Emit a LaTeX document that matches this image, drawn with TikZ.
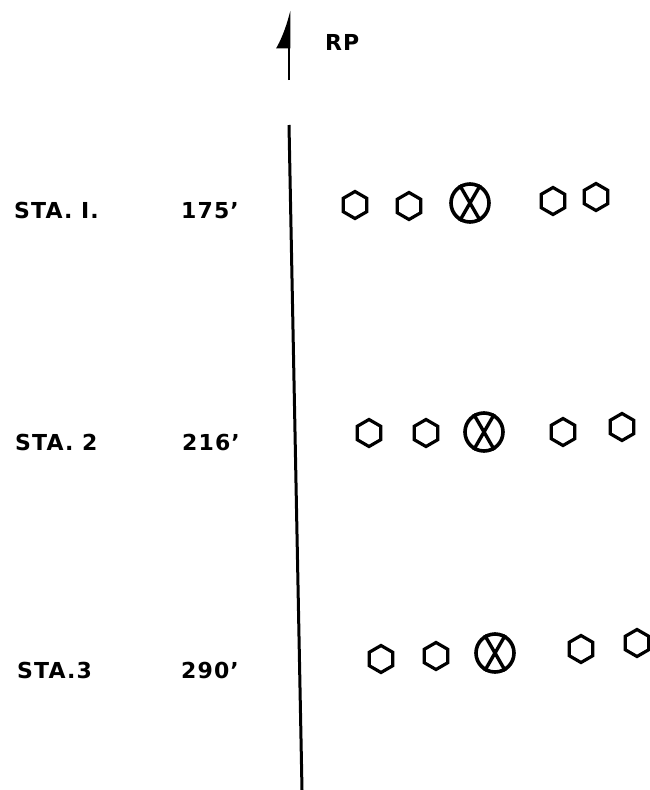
\documentclass[tikz,border=0pt]{standalone}
\usepackage{fontspec}
\setmainfont{DejaVu Sans}
\usetikzlibrary{arrows.meta, shapes.geometric}
\tikzset{
  bolt/.style={
    regular polygon, regular polygon sides=6, shape border rotate=30,
    draw, line width=3.2pt, minimum size=27pt, inner sep=0pt
  },
  target/.style={
    circle, draw, line width=3.6pt, minimum size=38pt, inner sep=0pt
  },
  label/.style={font=\fontsize{22}{24}\selectfont\bfseries\addfontfeature{LetterSpace=5},
    anchor=base west, inner sep=0pt},
}

\begin{document}
\begin{tikzpicture}[x=1pt, y=-1pt]
  \useasboundingbox (0,0) rectangle (650,790);
  % reference direction
  \coordinate (RPtail) at (289,80);
  \coordinate (RPtip) at (289,10);
  \draw[line width=2.8pt, -{Latex[harpoon, length=33pt, width=26pt]}] (RPtail) -- (RPtip);
  \node[label] (RP) at (325,50) {RP};
  % centre line
  \coordinate (Ltop) at (289,125);
  \coordinate (Lbot) at (302,790);
  \draw[line width=3pt] (Ltop) -- (Lbot);

  % station 1
  \node[label] (STA1) at (14,218) {STA. I.};
  \node[label] (D1) at (181,218) {175'};
  \node[bolt] (B11) at (355,205) {};
  \node[bolt] (B12) at (409,206) {};
  \node[target] (T1) at (470,203) {};
  \node[bolt] (B14) at (553,201) {};
  \node[bolt] (B15) at (596,197) {};

  % station 2
  \node[label] (STA2) at (15,450) {STA. 2};
  \node[label] (D2) at (182,450) {216'};
  \node[bolt] (B21) at (369,433) {};
  \node[bolt] (B22) at (426,433) {};
  \node[target] (T2) at (484,432) {};
  \node[bolt] (B24) at (563,432) {};
  \node[bolt] (B25) at (622,427) {};

  % station 3
  \node[label] (STA3) at (17,678) {STA.3};
  \node[label] (D3) at (181,678) {290'};
  \node[bolt] (B31) at (381,659) {};
  \node[bolt] (B32) at (436,656) {};
  \node[target] (T3) at (495,653) {};
  \node[bolt] (B34) at (581,649) {};
  \node[bolt] (B35) at (637,643) {};

  \foreach \t in {T1,T2,T3}
    \draw[line width=3.4pt] (\t.120) -- (\t.300) (\t.60) -- (\t.240);
\end{tikzpicture}
\end{document}
